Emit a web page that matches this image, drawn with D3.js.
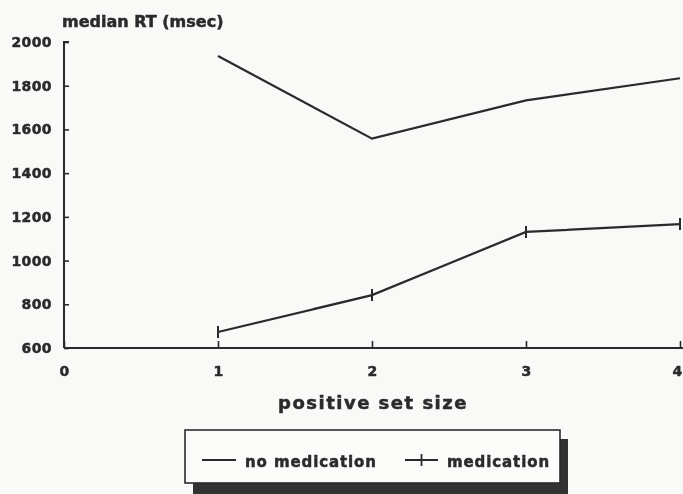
<!DOCTYPE html>
<html>
<head>
<meta charset="utf-8">
<script src="https://cdn.jsdelivr.net/npm/d3@7"></script>
<style>
  html, body { margin: 0; padding: 0; background: #f9f9f7; }
  svg text { font-family: "DejaVu Sans", "Liberation Sans", sans-serif; font-weight: bold;
             fill: #2b2b2b; stroke: #2b2b2b; stroke-width: 0.5; }
</style>
</head>
<body>
<script>
// ─── DATA ──────────────────────────────────────────────────────────────
const setSizes     = [1, 2, 3, 4];
const noMedication = [1936, 1558, 1733, 1834];
const medication   = [673, 842, 1131, 1167];
const xTicks       = [0, 1, 2, 3, 4];
const yTicks       = [600, 800, 1000, 1200, 1400, 1600, 1800, 2000];
const seriesNames  = ["no medication", "medication"];

// ─── LAYOUT ────────────────────────────────────────────────────────────
const width = 683, height = 494;
const ink = "#2b2b2b";

const x = d3.scaleLinear().domain([0, 4]).range([64, 680]);
const y = d3.scaleLinear().domain([600, 2000]).range([348, 42]);

const svg = d3.select("body").append("svg")
  .attr("width", width)
  .attr("height", height);

// soft blur to mimic the scanned page
svg.append("defs").append("filter")
  .attr("id", "scan")
  .append("feGaussianBlur")
  .attr("stdDeviation", 0.45);

const g = svg.append("g").attr("filter", "url(#scan)");

// ─── AXES ──────────────────────────────────────────────────────────────
const yAxis = d3.axisLeft(y).tickValues(yTicks).tickSize(-5).tickPadding(12)
  .tickFormat(d3.format("d"));
const xAxis = d3.axisBottom(x).tickValues(xTicks).tickSize(-7).tickPadding(18)
  .tickFormat(d3.format("d"));

const gy = g.append("g").attr("transform", `translate(${x(0)},0)`).call(yAxis);
const gx = g.append("g").attr("transform", `translate(0,${y(600)})`).call(xAxis);

[gy, gx].forEach(ax => {
  ax.select(".domain").attr("stroke", ink).attr("stroke-width", 2);
  ax.selectAll(".tick line").attr("stroke", ink).attr("stroke-width", 1.6);
  ax.selectAll(".tick text").attr("font-size", 14).attr("fill", ink)
    .attr("letter-spacing", 0.4);
});
gx.select(".domain").attr("d", `M${x(0)},0H${width}`);
gy.select(".domain").attr("d", `M0,${y(600)}V${y(2000)}H5`);
// last x label sits at the page edge; nudge it in so it stays readable
gx.selectAll(".tick text").filter(d => d === 4).attr("x", -3);

// axis titles
g.append("text")
  .attr("x", 62).attr("y", 27)
  .attr("font-size", 16)
  .text("median RT (msec)");

g.append("text")
  .attr("x", 373).attr("y", 409)
  .attr("text-anchor", "middle")
  .attr("font-size", 18)
  .attr("letter-spacing", 1.5)
  .text("positive set size");

// ─── LINES ─────────────────────────────────────────────────────────────
const line = d3.line().x(d => x(d[0])).y(d => y(d[1]));

g.append("path")
  .datum(d3.zip(setSizes, noMedication))
  .attr("d", line)
  .attr("fill", "none")
  .attr("stroke", ink)
  .attr("stroke-width", 2.2);

g.append("path")
  .datum(d3.zip(setSizes, medication))
  .attr("d", line)
  .attr("fill", "none")
  .attr("stroke", ink)
  .attr("stroke-width", 2.2);

g.selectAll("line.med-mark")
  .data(d3.zip(setSizes, medication))
  .join("line")
    .attr("class", "med-mark")
    .attr("x1", d => x(d[0])).attr("x2", d => x(d[0]))
    .attr("y1", d => y(d[1]) - 6).attr("y2", d => y(d[1]) + 6)
    .attr("stroke", ink)
    .attr("stroke-width", 2);

// ─── LEGEND ────────────────────────────────────────────────────────────
const legend = g.append("g");
legend.append("rect")
  .attr("x", 193).attr("y", 439)
  .attr("width", 375).attr("height", 60)
  .attr("fill", "#333");
legend.append("rect")
  .attr("x", 185).attr("y", 430)
  .attr("width", 375).attr("height", 53)
  .attr("fill", "#fbfbfa")
  .attr("stroke", ink)
  .attr("stroke-width", 1.6);

const items = [
  { name: seriesNames[0], x0: 202, x1: 236, tx: 245, mark: false },
  { name: seriesNames[1], x0: 405, x1: 438, tx: 447, mark: true }
];
items.forEach(it => {
  legend.append("line")
    .attr("x1", it.x0).attr("x2", it.x1)
    .attr("y1", 460).attr("y2", 460)
    .attr("stroke", ink).attr("stroke-width", 1.8);
  if (it.mark) {
    const mx = (it.x0 + it.x1) / 2;
    legend.append("line")
      .attr("x1", mx).attr("x2", mx)
      .attr("y1", 454).attr("y2", 466)
      .attr("stroke", ink).attr("stroke-width", 1.8);
  }
  legend.append("text")
    .attr("x", it.tx).attr("y", 467)
    .attr("font-size", 15)
    .attr("letter-spacing", 0.9)
    .text(it.name);
});
</script>
</body>
</html>
